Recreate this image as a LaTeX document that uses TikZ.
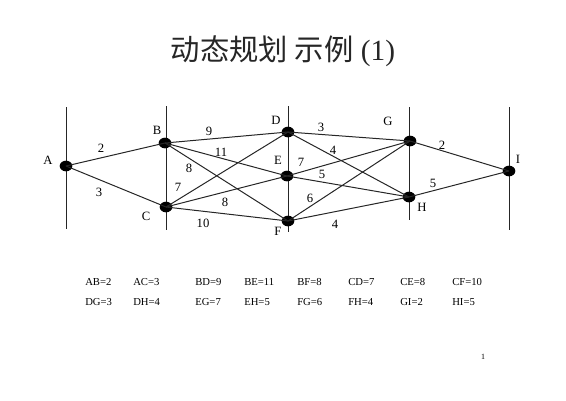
\documentclass[tikz,border=0pt]{standalone}
\usepackage{fontspec}
\usetikzlibrary{shapes.geometric}
\setmainfont{Liberation Serif}
\newfontfamily\cjk{Noto Sans CJK SC}
\begin{document}
\begin{tikzpicture}[x=0.75pt,y=-0.75pt,
  dot/.style={ellipse,fill=black,inner sep=0pt,minimum width=9.5pt,minimum height=8pt},
  stage/.style={line width=0.75pt,draw=black!85},
  edge/.style={line width=0.75pt,draw=black!85},
  lab/.style={font=\fontsize{9.5}{11}\selectfont,inner sep=0pt},
  wt/.style={font=\fontsize{9.5}{11}\selectfont,inner sep=0pt},
  tab/.style={font=\fontsize{8}{10}\selectfont,inner sep=0pt,anchor=west}]
\useasboundingbox (0,0) rectangle (566,400);
% stage lines
\coordinate (s1t) at (66,107); \coordinate (s1b) at (66,229);
\coordinate (s2t) at (166,106); \coordinate (s2b) at (166,230);
\coordinate (s3t) at (288,106); \coordinate (s3b) at (288,232);
\coordinate (s4t) at (409,107); \coordinate (s4b) at (409,220);
\coordinate (s5t) at (509,107); \coordinate (s5b) at (509,230);
\foreach \i in {1,...,5} \draw[stage] (s\i t) -- (s\i b);
% nodes
\node[dot] (A) at (66,166) {};
\node[dot] (B) at (165,143) {};
\node[dot] (C) at (166,207) {};
\node[dot] (D) at (288,132) {};
\node[dot] (E) at (287,176) {};
\node[dot] (F) at (288,221) {};
\node[dot] (G) at (410,141) {};
\node[dot] (H) at (409,197) {};
\node[dot] (I) at (509,171) {};
% edges
\foreach \a/\b in {A/B,A/C,B/D,B/E,B/F,C/D,C/E,C/F,D/G,D/H,E/G,E/H,F/G,F/H,G/I,H/I}
  \draw[edge] (\a.center) -- (\b.center);
% node labels
\node[lab] (lA) at (48,160) {A};
\node[lab] (lB) at (157,130) {B};
\node[lab] (lC) at (146,216) {C};
\node[lab] (lD) at (276,120) {D};
\node[lab] (lE) at (278,160) {E};
\node[lab] (lF) at (278,231) {F};
\node[lab] (lG) at (388,121) {G};
\node[lab] (lH) at (422,207) {H};
\node[lab] (lI) at (518,159) {I};
% weights
\node[wt] (wAB) at (101,148) {2};
\node[wt] (wAC) at (99,192) {3};
\node[wt] (wBD) at (209,131) {9};
\node[wt] (wBE) at (221,152) {11};
\node[wt] (wBF) at (189,168) {8};
\node[wt] (wCD) at (178,187) {7};
\node[wt] (wCE) at (225,202) {8};
\node[wt] (wCF) at (203,223) {10};
\node[wt] (wDG) at (321,127) {3};
\node[wt] (wDH) at (333,150) {4};
\node[wt] (wEG) at (301,162) {7};
\node[wt] (wEH) at (322,174) {5};
\node[wt] (wFG) at (310,198) {6};
\node[wt] (wFH) at (335,224) {4};
\node[wt] (wGI) at (442,145) {2};
\node[wt] (wHI) at (433,183) {5};
% title
\node[inner sep=0pt,text=black!85] (title) at (283,51) {\fontsize{22}{25}\selectfont{\cjk 动态规划 示例} (1)};
% table
\foreach \t [count=\k] in {AB=2,AC=3,BD=9,BE=11,BF=8,CD=7,CE=8,CF=10}{
  \pgfmathsetmacro{\xx}{{85,133,195,244,297,348,400,452}[\k-1]}
  \node[tab] (r1\k) at (\xx,282) {\t};}
\foreach \t [count=\k] in {DG=3,DH=4,EG=7,EH=5,FG=6,FH=4,GI=2,HI=5}{
  \pgfmathsetmacro{\xx}{{85,133,195,244,297,348,400,452}[\k-1]}
  \node[tab] (r2\k) at (\xx,302) {\t};}
\node[inner sep=0pt,font=\fontsize{6}{7}\selectfont] (pg) at (483,357) {1};
\end{tikzpicture}
\end{document}
